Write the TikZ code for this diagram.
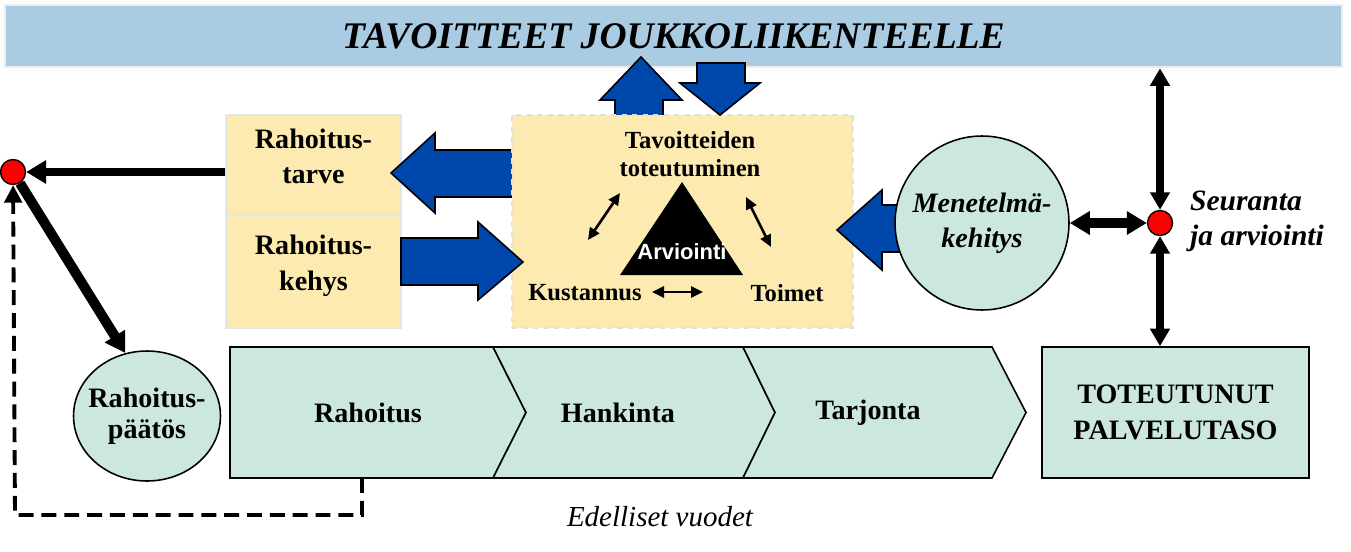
\documentclass[tikz,border=0pt]{standalone}
\usepackage{fontspec}
\setmainfont{Liberation Serif}
\setsansfont{Liberation Sans}
\usetikzlibrary{positioning,arrows.meta,shapes.geometric}
\definecolor{goalblue}{RGB}{169,204,227}
\definecolor{boxyellow}{RGB}{252,234,176}
\definecolor{flowteal}{RGB}{204,231,223}
\definecolor{arrowblue}{RGB}{0,71,171}

\begin{document}
\begin{tikzpicture}[x=0.02cm, y=-0.02cm,
  txt/.style={font=\fontsize{16}{20}\selectfont\bfseries, align=center},
  inner/.style={font=\fontsize{14}{16}\selectfont\bfseries, align=center},
  fund/.style={draw=gray!20, line width=1pt, fill=boxyellow, minimum width=3.5cm, text depth=0.35cm, txt},
  flow/.style={draw, line width=0.9pt, fill=flowteal},
  blk/.style={draw, line width=0.9pt, fill=arrowblue},
  thin/.style={{Triangle[length=2.4mm,width=2.2mm]}-{Triangle[length=2.4mm,width=2.2mm]}, line width=1.5pt},
  fat/.style={-{Triangle[length=4mm,width=4.5mm]}, line width=0.17cm},
  dbl/.style={{Triangle[length=3.5mm,width=3.8mm]}-{Triangle[length=3.5mm,width=3.8mm]}, line width=0.15cm},
  dot/.style={circle, draw, line width=0.8pt, fill=red, minimum size=0.5cm, inner sep=0pt}]
\useasboundingbox (0,0) rectangle (1351,551);

% goals on top
\node[draw=gray!15, line width=1.5pt, fill=goalblue, minimum width=26.74cm, minimum height=1.24cm,
  font=\fontsize{21.4}{26}\selectfont\bfseries\itshape] (goals) at (673.5,36) {TAVOITTEET JOUKKOLIIKENTEELLE};
\filldraw[blk] (615,125)--(615,100)--(600,100)--(641,57)--(682,100)--(663,100)--(663,125)--cycle;

% funding boxes
\node[fund, minimum height=2cm] (tarve) at (313.5,165) {Rahoitus-\\tarve};
\node[fund, minimum height=2.26cm] (kehys) at (313.5,271.5) {Rahoitus-\\kehys};
\filldraw[blk] (520,150)--(435,150)--(435,133)--(391,173)--(435,213)--(435,197)--(520,197)--cycle;

% evaluation box
\node[draw=gray!25, dashed, line width=1pt, fill=boxyellow, minimum width=6.82cm, minimum height=4.26cm] (eval) at (682.5,221.5) {};
\fill (620,275)--(682,182)--(743,275)--cycle;
\node[font=\sffamily\bfseries\fontsize{12.5}{14}\selectfont, text=white] (arv) at (682,252) {Arviointi};
\node[inner] (tav) at (690,154) {Tavoitteiden\\toteutuminen};
\node[inner] (kust) at (585,293) {Kustannus};
\node[inner] (toim) at (787,293) {Toimet};
\coordinate (k1) at (588,240); \coordinate (t1) at (620,193);
\coordinate (t2) at (746,197); \coordinate (m2) at (771,247);
\coordinate (k3) at (652,292); \coordinate (m3) at (703,292);
\draw[thin] (k1) -- (t1); \draw[thin] (t2) -- (m2); \draw[thin] (k3) -- (m3);

\filldraw[blk] (401,238)--(478,238)--(478,222)--(523,262)--(478,300)--(478,285)--(401,285)--cycle;
\filldraw[blk] (697,63)--(745,63)--(745,83)--(760,83)--(720,115)--(680,83)--(697,83)--cycle;
\filldraw[blk] (920,205)--(882,205)--(882,190)--(837,230)--(882,270)--(882,252)--(920,252)--cycle;

% follow-up
\node[circle, draw, line width=0.9pt, fill=flowteal, minimum size=3.48cm, align=center,
  font=\fontsize{16}{20}\selectfont\bfseries\itshape] (mene) at (982,223) {Menetelmä-\\kehitys};
\node[dot] (rdot) at (1160,223) {};
\node[anchor=west, align=left, font=\fontsize{16.8}{20}\selectfont\bfseries\itshape] (seur) at (1184,221) {Seuranta\\ja arviointi};

% flow row
\filldraw[flow] (230,347)--(493,347)--(526,412.5)--(493,478)--(230,478)--cycle;
\filldraw[flow] (493,347)--(743,347)--(775,412.5)--(743,478)--(493,478)--(526,412.5)--cycle;
\filldraw[flow] (743,347)--(992,347)--(1026,412.5)--(992,478)--(743,478)--(775,412.5)--cycle;
\node[txt] (rah) at (368,413) {Rahoitus};
\node[txt] (hank) at (618,413) {Hankinta};
\node[txt] (tarj) at (868,413) {Tarjonta};
\node[draw, line width=0.9pt, fill=flowteal, minimum width=5.34cm, minimum height=2.62cm,
  txt, font=\fontsize{16}{20.5}\selectfont\bfseries] (real) at (1175.5,412.5) {TOTEUTUNUT\\PALVELUTASO};
\node[ellipse, draw, line width=0.9pt, fill=flowteal, minimum width=2.94cm, minimum height=2.6cm,
  inner xsep=-0.3cm, inner ysep=-0.2cm, txt, font=\fontsize{16}{17.5}\selectfont\bfseries] (paatos) at (147,416) {Rahoitus-\\päätös};
\node[dot] (ldot) at (13,172) {};
\node[font=\fontsize{16.5}{20}\selectfont\itshape] (edel) at (660,517) {Edelliset vuodet};

% connectors
\draw[fat, line width=0.16cm] (ldot -| tarve.west) -- (ldot);
\draw[fat, line width=0.2cm] (ldot) -- (paatos.109);
\coordinate (prev) at (362,478);
\draw[line width=2.2pt, dash pattern=on 8.5pt off 4.5pt, -{Triangle[length=3.5mm,width=3.5mm]}]
  (prev) -- (362,515) -- (15,515) -- (ldot);
\draw[dbl, line width=0.2cm, {Triangle[length=4mm,width=4.5mm]}-{Triangle[length=4mm,width=4.5mm]}] (mene) -- (rdot);
\draw[dbl] (rdot) -- (rdot |- goals.south);
\draw[dbl] (rdot) -- (rdot |- real.north);
\end{tikzpicture}
\end{document}
